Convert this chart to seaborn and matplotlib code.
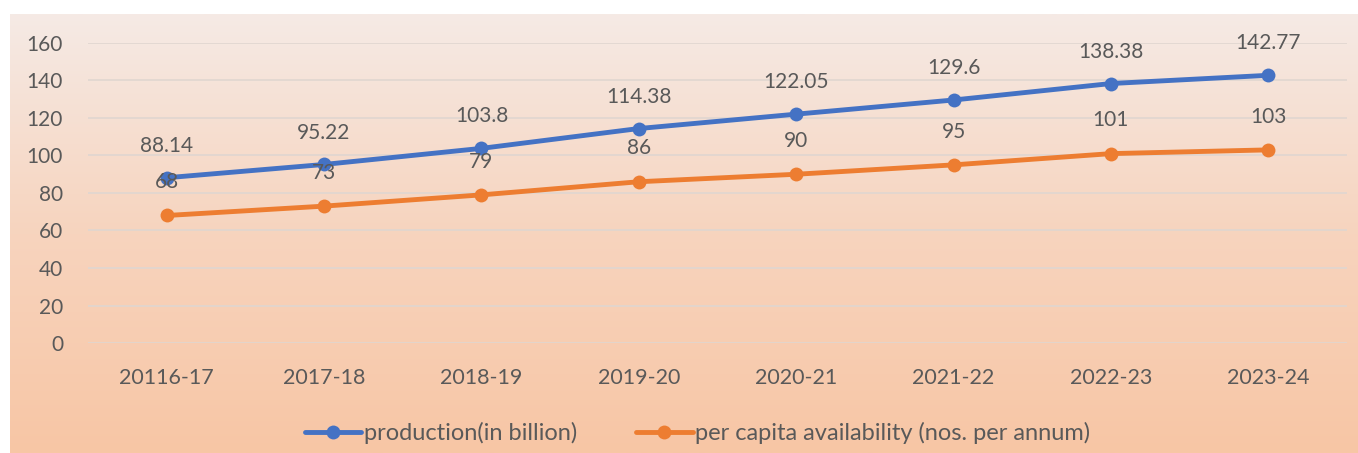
import numpy as np
import pandas as pd
import matplotlib.pyplot as plt
import seaborn as sns
from matplotlib.colors import LinearSegmentedColormap

years = ['20116-17', '2017-18', '2018-19', '2019-20', '2020-21', '2021-22', '2022-23', '2023-24']
production = [88.14, 95.22, 103.8, 114.38, 122.05, 129.6, 138.38, 142.77]
per_capita = [68, 73, 79, 86, 90, 95, 101, 103]
prod_labels = ['88.14', '95.22', '103.8', '114.38', '122.05', '129.6', '138.38', '142.77']
cap_labels = ['68', '73', '79', '86', '90', '95', '101', '103']

s1 = 'production(in billion)'
s2 = 'per capita availability (nos. per annum)'
df = pd.DataFrame({'year': years * 2,
                   'value': production + per_capita,
                   'series': [s1] * len(years) + [s2] * len(years)})

sns.set_theme(style='white')
plt.rcParams['font.family'] = ['Lato', 'DejaVu Sans']
txt = '#595959'

W, H = 1358, 453
fig = plt.figure(figsize=(W / 100, H / 100), dpi=100)
fig.patch.set_facecolor('white')

# gradient background panel
bg = fig.add_axes([10 / W, 0, 1 - 10 / W, 1 - 14 / H], zorder=0)
cmap = LinearSegmentedColormap.from_list('bg', ['#F5EAE5', '#F7D4BE', '#F8C6A5'])
bg.imshow(np.linspace(0, 1, 256).reshape(-1, 1), aspect='auto', cmap=cmap,
          extent=[0, 1, 0, 1])
bg.set_axis_off()

ax = fig.add_axes([88 / W, (H - 343) / H, (1347 - 88) / W, 300 / H], zorder=1)
ax.patch.set_alpha(0)

sns.lineplot(data=df, x='year', y='value', hue='series', sort=False,
             palette=['#4472C4', '#ED7D31'], marker='o', markersize=10,
             markeredgewidth=0, linewidth=3.5, ax=ax)

ax.set_ylim(0, 160)
ax.set_xlim(-0.5, len(years) - 0.5)
ax.set_yticks(range(0, 161, 20))
ax.yaxis.grid(True, color='#E0D6D0', linewidth=1.2)
ax.set_axisbelow(True)
for sp in ax.spines.values():
    sp.set_visible(False)
ax.set_xlabel('')
ax.set_ylabel('')
ax.tick_params(axis='y', colors=txt, labelsize=15, length=0, pad=18)
ax.tick_params(axis='x', colors=txt, labelsize=15.5, length=0, pad=18)

for i in range(len(years)):
    ax.annotate(prod_labels[i], (i, production[i]), xytext=(0, 23),
                textcoords='offset points', ha='center', va='center',
                fontsize=15, color=txt)
    ax.annotate(cap_labels[i], (i, per_capita[i]), xytext=(0, 24),
                textcoords='offset points', ha='center', va='center',
                fontsize=15, color=txt)

ax.legend(loc='center', bbox_to_anchor=(0.484, -0.3), ncol=2, frameon=False,
          fontsize=17, labelcolor=txt, handlelength=2.4, handletextpad=0.1,
          columnspacing=2.5)

fig.savefig('out.png', dpi=100)
